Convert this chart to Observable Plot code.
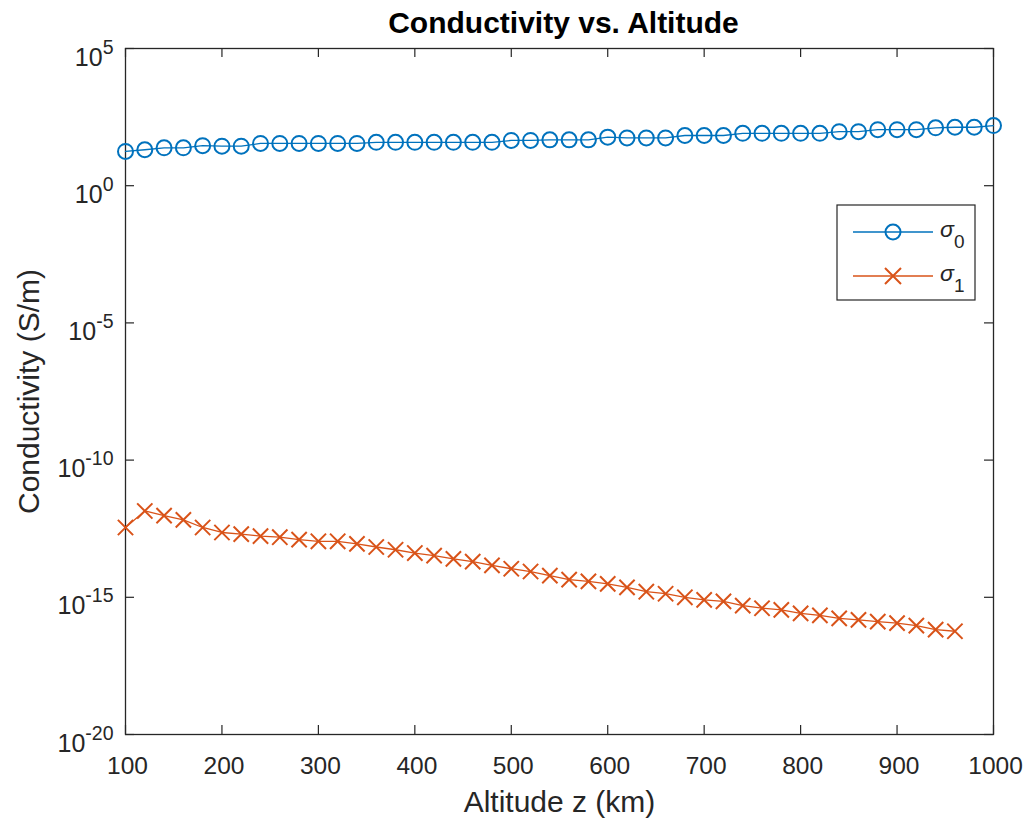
<!DOCTYPE html>
<html>
<head>
<meta charset="utf-8">
<script src="https://cdn.jsdelivr.net/npm/d3@7"></script>
<script src="https://cdn.jsdelivr.net/npm/@observablehq/plot@0.6"></script>
<style>
  html, body { margin: 0; padding: 0; background: #fff; }
  #chart { width: 1026px; height: 822px; }
</style>
</head>
<body>
<div id="chart"></div>
<script>
// ---- data ----
const altitudeSigma0 = [100,120,140,160,180,200,220,240,260,280,300,320,340,360,380,400,420,440,460,480,500,520,540,560,580,600,620,640,660,680,700,720,740,760,780,800,820,840,860,880,900,920,940,960,980,1000];
const sigma0 = [17.8,20.4,24.0,24.0,28.8,27.5,27.5,34.7,34.7,34.7,34.7,34.7,34.7,38.0,38.0,38.0,38.0,38.0,38.0,38.0,44.7,44.7,46.8,46.8,46.8,58.9,55.0,55.0,55.0,67.6,67.6,67.6,81.3,81.3,81.3,81.3,81.3,93.3,93.3,110,110,110,129,135,135,155];
const altitudeSigma1 = [100,120,140,160,180,200,220,240,260,280,300,320,340,360,380,400,420,440,460,480,500,520,540,560,580,600,620,640,660,680,700,720,740,760,780,800,820,840,860,880,900,920,940,960];
const sigma1 = [3.5e-13,1.4e-12,9.5e-13,6.6e-13,3.5e-13,2.3e-13,2.0e-13,1.7e-13,1.55e-13,1.26e-13,1.1e-13,1.1e-13,8.9e-14,6.8e-14,5.4e-14,4.1e-14,3.3e-14,2.5e-14,2.0e-14,1.45e-14,1.1e-14,8.7e-15,6.2e-15,4.4e-15,3.8e-15,3.1e-15,2.3e-15,1.6e-15,1.35e-15,1.0e-15,8.1e-16,7.1e-16,5.0e-16,4.0e-16,3.5e-16,2.6e-16,2.2e-16,1.7e-16,1.5e-16,1.3e-16,1.15e-16,9.3e-17,6.6e-17,5.8e-17];
const xTicks = [100,200,300,400,500,600,700,800,900,1000];
const yTicks = [1e-20,1e-15,1e-10,1e-5,1e0,1e5];
const yTickExponents = ["-20","-15","-10","-5","0","5"];
const seriesNames = ["0","1"];
const titleText = "Conductivity vs. Altitude";
const xLabel = "Altitude z (km)";
const yLabel = "Conductivity (S/m)";

// ---- tables ----
const s0 = altitudeSigma0.map((z, i) => ({z, v: sigma0[i]}));
const s1 = altitudeSigma1.map((z, i) => ({z, v: sigma1[i]}));
const yLab = yTicks.map((v, i) => ({v, e: yTickExponents[i]}));

const BLUE = "#0072BD", RED = "#D95319", AX = "#262626";
const W = 1026, H = 822, ML = 125, MR = 33, MT = 48, MB = 88;
const FW = W - ML - MR, FH = H - MT - MB, TK = 9;
const FONT = "'Liberation Sans', Arial, sans-serif";

const svg = Plot.plot({
  width: W, height: H,
  marginLeft: ML, marginRight: MR, marginTop: MT, marginBottom: MB,
  x: {domain: [100, 1000], axis: null},
  y: {type: "log", domain: [1e-20, 1e5], axis: null},
  style: {fontFamily: FONT, fontSize: "24px", color: AX, background: "#fff"},
  marks: [
    // inward ticks
    Plot.tickX(xTicks, {x: d => d, insetTop: FH - TK, stroke: AX, strokeWidth: 1.2}),
    Plot.tickX(xTicks, {x: d => d, insetBottom: FH - TK, stroke: AX, strokeWidth: 1.2}),
    Plot.tickY(yTicks, {y: d => d, insetRight: FW - TK, stroke: AX, strokeWidth: 1.2}),
    Plot.tickY(yTicks, {y: d => d, insetLeft: FW - TK, stroke: AX, strokeWidth: 1.2}),
    Plot.frame({stroke: AX, strokeWidth: 1.3}),
    // tick labels
    Plot.text(xTicks, {x: d => d, text: d => String(d), frameAnchor: "bottom", textAnchor: "middle", lineAnchor: "bottom", dy: 39, dx: 2, fontSize: 24.5, fill: AX}),
    Plot.text(yLab, {y: "v", text: "e", frameAnchor: "left", textAnchor: "end", lineAnchor: "bottom", dx: -12, dy: 17, fontSize: 25, fill: AX}),
    // axis labels & title
    Plot.text([xLabel], {text: d => d, frameAnchor: "bottom", textAnchor: "middle", lineAnchor: "bottom", dy: 77, fontSize: 30, fill: AX}),
    Plot.text([yLabel], {text: d => d, frameAnchor: "left", textAnchor: "middle", rotate: -90, lineAnchor: "bottom", dx: -87, fontSize: 30, fill: AX}),
    Plot.text([titleText], {text: d => d, frameAnchor: "top", textAnchor: "middle", lineAnchor: "bottom", dy: -16, dx: 4, fontSize: 30, fontWeight: "bold", fill: "#000"}),
    // series
    Plot.line(s0, {x: "z", y: "v", stroke: BLUE, strokeWidth: 1.3}),
    Plot.dot(s0, {x: "z", y: "v", r: 7.5, stroke: BLUE, fill: "none", strokeWidth: 2}),
    Plot.line(s1, {x: "z", y: "v", stroke: RED, strokeWidth: 1.3}),
    Plot.dot(s1, {x: "z", y: "v", r: 7, symbol: "times", stroke: RED, strokeWidth: 2})
  ]
});

// superscript exponents for y tick labels ("10" + raised exponent)
svg.querySelectorAll("text").forEach(node => {
  const e = node.textContent;
  if (yTickExponents.includes(e) && node.children.length === 0) {
    const t = d3.select(node);
    t.text(null);
    t.append("tspan").text("10");
    t.append("tspan").attr("font-size", 19.5).attr("dy", -12).text(e);
  }
});

// legend
const lg = d3.select(svg).append("g").attr("aria-label", "legend").attr("text-anchor", "start");
lg.append("rect").attr("x", 837).attr("y", 205).attr("width", 138).attr("height", 95)
  .attr("fill", "#fff").attr("stroke", AX).attr("stroke-width", 1.2);
const rows = [{c: BLUE, y: 232, n: seriesNames[0], sym: "circle"}, {c: RED, y: 276, n: seriesNames[1], sym: "times"}];
rows.forEach(r => {
  lg.append("line").attr("x1", 853).attr("x2", 933).attr("y1", r.y).attr("y2", r.y)
    .attr("stroke", r.c).attr("stroke-width", 1.3);
  if (r.sym === "circle") {
    lg.append("circle").attr("cx", 893).attr("cy", r.y).attr("r", 7.5).attr("fill", "none").attr("stroke", r.c).attr("stroke-width", 2);
  } else {
    lg.append("path").attr("d", `M885,${r.y-8}L901,${r.y+8}M885,${r.y+8}L901,${r.y-8}`).attr("stroke", r.c).attr("stroke-width", 2);
  }
  const tx = lg.append("text").attr("x", 940).attr("y", r.y + 5).attr("text-anchor", "start")
    .attr("font-family", FONT).attr("font-style", "italic")
    .attr("font-size", 23).attr("fill", AX);
  tx.append("tspan").text("σ");
  tx.append("tspan").attr("font-style", "normal")
    .attr("font-size", 19).attr("dy", 11).text(r.n);
});

document.getElementById("chart").appendChild(svg);
</script>
</body>
</html>
